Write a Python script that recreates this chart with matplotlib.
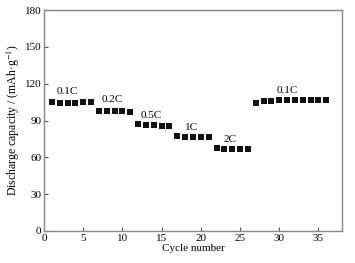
import matplotlib
matplotlib.use("Agg")
import matplotlib.pyplot as plt

cycles = list(range(1, 37))
capacity = [105.3, 104.2, 104.2, 104.2, 105.0, 105.0,
            97.8, 97.6, 97.4, 97.4, 97.3,
            86.8, 86.5, 86.0, 85.8, 85.6,
            77.2, 76.8, 76.5, 76.3, 76.2,
            67.5, 66.8, 66.6, 66.6, 66.6,
            104.5, 105.5, 106.2, 106.5, 106.8, 107.0, 107.0, 107.0, 107.0, 107.0]
rate_labels = ["0.1C", "0.2C", "0.5C", "1C", "2C", "0.1C"]
label_x = [1.6, 7.3, 12.3, 18.0, 22.9, 29.7]
label_y = [110, 103.5, 90, 80.5, 70.5, 111]

plt.rcParams['font.family'] = ['Liberation Serif', 'DejaVu Serif']
plt.rcParams['mathtext.fontset'] = 'stix'
fig = plt.figure(figsize=(3.55, 2.63), dpi=100)
ax = fig.add_axes([44/355, 32/263, 298/355, 221/263])
ax.plot(cycles, capacity, 's', color='#111111', markersize=3.7, markeredgewidth=0)
for t, x, y in zip(rate_labels, label_x, label_y):
    ax.text(x, y, t, fontsize=8, ha='left', va='bottom')
ax.set_xlim(0, 38)
ax.set_ylim(0, 180)
ax.set_xticks(range(0, 36, 5))
ax.set_yticks(range(0, 181, 30))
ax.tick_params(direction='in', labelsize=8, length=3, width=0.8, color='#555555', pad=2)
for s in ax.spines.values():
    s.set_color('#888888')
    s.set_linewidth(1.0)
ax.set_xlabel('Cycle number', fontsize=8, labelpad=1)
ax.set_ylabel('Discharge capacity / (mAh\u00b7g$^{-1}$)', fontsize=8.5, labelpad=2)
fig.savefig('out.png', dpi=100)
